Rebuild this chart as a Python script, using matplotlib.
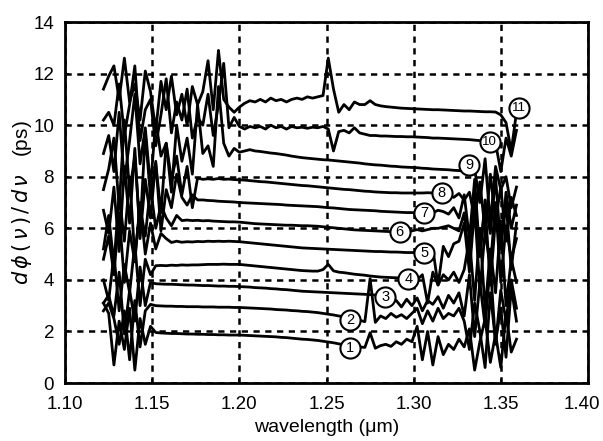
import numpy as np
import matplotlib
matplotlib.use("Agg")
import matplotlib.pyplot as plt
import matplotlib.transforms as mtransforms

# wavelength sampling (um) shared by all traces
wl_start = 1.122
wl_step = 0.003
n_pts = 80

curve_1 = [3.1, 2.7, 0.7, 2.4, 1.3, 2.9, 0.5, 2.5, 1.5, 2.2,
           1.96, 1.94, 1.93, 1.92, 1.92, 1.91, 1.9, 1.9, 1.89, 1.89,
           1.88, 1.88, 1.87, 1.87, 1.86, 1.86, 1.86, 1.85, 1.84, 1.83,
           1.82, 1.81, 1.8, 1.79, 1.77, 1.76, 1.74, 1.72, 1.7, 1.69,
           1.67, 1.65, 1.62, 1.59, 1.56, 1.52, 1.48, 1.45, 1.42, 1.4,
           1.38, 1.95, 1.35, 1.45, 1.5, 1.42, 1.6, 1.5, 1.7, 1.6,
           2.2, 0.9, 2.0, 0.7, 1.8, 1.1, 1.5, 1.3, 1.7, 1.4,
           2.1, 0.5, 1.6, 2.5, 0.8, 1.9, 0.6, 2.7, 1.2, 1.7]
curve_2 = [2.8, 3.1, 2.5, 1.5, 2.8, 0.9, 3.2, 1.4, 2.8, 3.05,
           3.0, 2.99, 2.98, 2.98, 2.97, 2.97, 2.96, 2.96, 2.96, 2.95,
           2.95, 2.95, 2.94, 2.94, 2.94, 2.93, 2.93, 2.92, 2.91, 2.9,
           2.89, 2.88, 2.87, 2.85, 2.84, 2.83, 2.81, 2.8, 2.78, 2.77,
           2.75, 2.73, 2.7, 2.67, 2.64, 2.6, 2.57, 2.53, 2.48, 2.43,
           2.38, 4.05, 2.35, 2.6, 2.5, 2.7, 2.55, 2.65, 2.5, 2.7,
           2.9, 2.3, 2.8, 2.4, 2.9, 2.5, 2.7, 2.6, 2.9, 2.4,
           1.3, 3.1, 2.0, 0.6, 3.5, 1.6, 2.9, 1.0, 3.7, 2.4]
curve_3 = [3.1, 3.4, 2.6, 4.3, 1.9, 3.6, 2.4, 4.5, 3.0, 3.9,
           3.85, 3.84, 3.83, 3.83, 3.82, 3.81, 3.8, 3.8, 3.79, 3.78,
           3.78, 3.77, 3.76, 3.76, 3.75, 3.75, 3.74, 3.73, 3.72, 3.7,
           3.69, 3.68, 3.66, 3.65, 3.63, 3.62, 3.6, 3.58, 3.56, 3.55,
           3.54, 3.53, 3.52, 3.51, 3.5, 3.49, 3.48, 3.47, 3.46, 3.45,
           3.44, 3.43, 3.41, 3.37, 3.33, 3.1, 3.2, 2.95, 3.25, 3.0,
           3.3, 2.8, 3.2, 3.05, 3.35, 2.9, 3.4, 3.1, 3.5, 2.6,
           4.2, 1.8, 3.9, 2.2, 4.6, 1.5, 3.6, 2.4, 4.0, 2.9]
curve_4 = [4.0, 3.2, 5.0, 2.8, 4.6, 3.5, 5.4, 3.0, 4.8, 4.2,
           4.55, 4.56, 4.55, 4.57, 4.56, 4.58, 4.57, 4.58, 4.58, 4.59,
           4.6, 4.6, 4.6, 4.61, 4.6, 4.6, 4.6, 4.58, 4.56, 4.54,
           4.52, 4.5, 4.48, 4.46, 4.44, 4.42, 4.4, 4.38, 4.36, 4.35,
           4.34, 4.34, 4.4, 4.6, 4.35, 4.3, 4.28, 4.25, 4.22, 4.2,
           4.18, 4.15, 4.13, 4.11, 4.1, 4.09, 4.08, 4.07, 4.07, 4.1,
           4.0, 4.2, 3.1, 4.3, 3.8, 4.2, 4.0, 4.3, 3.9, 4.4,
           5.6, 3.2, 6.0, 2.8, 5.2, 3.5, 6.3, 3.0, 4.8, 3.9]
curve_5 = [4.8, 5.7, 4.2, 6.6, 3.9, 5.9, 4.7, 7.0, 5.0, 6.2,
           5.2, 5.8, 5.6, 5.45, 5.5, 5.46, 5.48, 5.47, 5.49, 5.48,
           5.5, 5.49, 5.5, 5.49, 5.5, 5.49, 5.48, 5.46, 5.44, 5.42,
           5.4, 5.38, 5.36, 5.34, 5.32, 5.3, 5.28, 5.26, 5.24, 5.23,
           5.22, 5.21, 5.2, 5.19, 5.18, 5.17, 5.16, 5.15, 5.14, 5.13,
           5.12, 5.11, 5.1, 5.1, 5.09, 5.08, 5.08, 5.07, 5.06, 5.06,
           5.05, 5.04, 4.7, 5.2, 3.8, 5.3, 4.9, 5.4, 5.5, 6.2,
           4.3, 6.8, 3.6, 5.9, 4.5, 7.0, 3.9, 6.1, 4.8, 5.6]
curve_6 = [5.2, 6.5, 4.6, 7.3, 5.5, 8.0, 4.9, 6.8, 5.7, 7.6,
           6.0, 6.9, 6.4, 6.1, 6.5, 6.3, 6.32, 6.3, 6.31, 6.29,
           6.3, 6.28, 6.27, 6.26, 6.25, 6.25, 6.24, 6.22, 6.2, 6.18,
           6.17, 6.16, 6.15, 6.14, 6.13, 6.12, 6.12, 6.11, 6.1, 6.1,
           6.09, 6.08, 6.06, 6.04, 6.02, 6.0, 5.98, 5.96, 5.94, 5.93,
           5.92, 5.91, 5.9, 5.89, 5.88, 5.87, 5.86, 5.85, 5.85, 5.9,
           5.95, 5.9, 5.95, 6.0, 6.0, 6.05, 6.1, 6.0, 5.9, 6.6,
           4.6, 7.2, 5.0, 6.9, 3.8, 6.4, 5.3, 7.0, 4.4, 6.2]
curve_7 = [6.7, 5.8, 7.6, 5.1, 8.4, 6.2, 9.1, 5.6, 7.9, 6.4,
           8.6, 5.9, 7.5, 6.8, 8.1, 7.2, 6.9, 7.3, 7.1, 7.1,
           7.08, 7.07, 7.05, 7.04, 7.03, 7.02, 7.0, 6.99, 6.98, 6.97,
           6.96, 6.95, 6.94, 6.93, 6.92, 6.9, 6.89, 6.88, 6.87, 6.86,
           6.85, 6.84, 6.82, 6.8, 6.79, 6.77, 6.75, 6.73, 6.72, 6.71,
           6.7, 6.69, 6.68, 6.66, 6.65, 6.64, 6.63, 6.62, 6.61, 6.61,
           6.6, 6.6, 6.65, 6.6, 6.7, 6.65, 6.55, 6.8, 6.4, 7.3,
           5.6, 7.9, 4.9, 7.1, 5.8, 8.0, 5.2, 7.4, 6.0, 6.9]
curve_8 = [7.5, 8.3, 9.5, 6.8, 10.2, 7.4, 8.8, 5.9, 9.7, 7.2,
           8.5, 6.6, 9.3, 7.9, 8.8, 7.3, 8.4, 6.8, 7.95, 7.9,
           7.92, 7.9, 7.93, 7.9, 7.91, 7.89, 7.88, 7.87, 7.85, 7.83,
           7.81, 7.8, 7.78, 7.76, 7.74, 7.72, 7.7, 7.68, 7.66, 7.65,
           7.63, 7.61, 7.59, 7.57, 7.55, 7.53, 7.51, 7.5, 7.48, 7.46,
           7.44, 7.43, 7.41, 7.4, 7.39, 7.38, 7.38, 7.37, 7.37, 7.37,
           7.37, 7.37, 7.38, 7.37, 7.37, 7.37, 7.3, 7.2, 7.35, 7.1,
           7.4, 6.4, 7.8, 5.9, 8.1, 6.3, 7.6, 5.5, 7.2, 6.5]
curve_9 = [8.9, 9.6, 8.2, 10.5, 7.8, 9.4, 11.2, 8.5, 9.9, 7.6,
           10.2, 8.8, 9.3, 7.4, 10.0, 8.6, 9.5, 8.1, 10.8, 8.9,
           9.2, 8.4, 11.5, 9.3, 8.8, 9.1, 8.95, 9.0, 9.05, 9.0,
           8.98, 8.95, 8.92, 8.9, 8.87, 8.84, 8.8, 8.77, 8.74, 8.72,
           8.7, 8.68, 8.66, 8.65, 8.63, 8.61, 8.59, 8.57, 8.55, 8.53,
           8.5, 8.48, 8.46, 8.45, 8.43, 8.41, 8.4, 8.38, 8.37, 8.36,
           8.35, 8.33, 8.32, 8.3, 8.29, 8.28, 8.27, 8.25, 8.24, 8.22,
           8.2, 8.3, 7.0, 8.7, 6.2, 8.4, 7.5, 8.0, 6.8, 7.6]
curve_10 = [10.2, 10.5, 10.0, 11.6, 9.6, 10.8, 12.3, 9.4, 10.6, 11.0,
            9.2, 10.4, 11.8, 9.7, 10.9, 10.2, 11.4, 9.5, 10.3, 10.0,
            11.2, 9.6, 10.8, 12.4, 9.9, 10.3, 9.95, 9.85, 9.95, 9.9,
            9.95, 9.85, 10.0, 9.9, 9.95, 9.85, 9.95, 9.9, 9.92, 9.88,
            9.92, 9.9, 9.95, 9.85, 9.0, 9.75, 9.8, 9.7, 9.9, 9.7,
            9.65, 9.6, 9.6, 9.58, 9.58, 9.57, 9.56, 9.56, 9.55, 9.55,
            9.54, 9.53, 9.52, 9.5, 9.5, 9.49, 9.48, 9.47, 9.46, 9.45,
            9.44, 9.42, 9.4, 9.38, 9.36, 9.3, 8.2, 9.5, 8.8, 9.8]
curve_11 = [11.4, 11.9, 12.3, 11.0, 12.6, 10.9, 11.6, 10.2, 12.1, 11.3,
            9.8, 11.7, 10.6, 11.9, 10.4, 11.2, 10.0, 11.5, 10.8, 11.3,
            12.5, 10.6, 12.9, 11.0, 10.7, 10.5, 10.7, 10.85, 10.95, 10.9,
            11.0, 10.9, 11.05, 10.95, 11.0, 10.9, 11.0, 11.05, 11.0, 11.1,
            11.05, 11.1, 11.15, 12.6, 11.4, 10.5, 10.8, 10.6, 10.9, 10.8,
            10.8, 10.95, 10.8, 10.75, 10.72, 10.7, 10.68, 10.66, 10.65, 10.64,
            10.63, 10.62, 10.61, 10.6, 10.6, 10.59, 10.58, 10.57, 10.56, 10.55,
            10.55, 10.54, 10.53, 10.52, 10.52, 10.51, 10.4, 10.1, 9.0, 10.5]

curves = [curve_1, curve_2, curve_3, curve_4, curve_5, curve_6,
          curve_7, curve_8, curve_9, curve_10, curve_11]

# circled curve numbers and where they sit
label_text = ["1", "2", "3", "4", "5", "6", "7", "8", "9", "10", "11"]
label_x = [1.2636, 1.2636, 1.2838, 1.297, 1.306, 1.292, 1.306, 1.316, 1.332, 1.3437, 1.3604]
label_y = [1.36, 2.44, 3.33, 4.03, 5.04, 5.85, 6.6, 7.37, 8.45, 9.34, 10.66]

x_ticks = [1.10, 1.15, 1.20, 1.25, 1.30, 1.35, 1.40]
y_ticks = [0, 2, 4, 6, 8, 10, 12, 14]

plt.rcParams['font.family'] = ['Liberation Sans', 'DejaVu Sans']

wl = wl_start + wl_step * np.arange(n_pts)

fig = plt.figure(figsize=(6.03, 4.41), dpi=100)
ax = fig.add_axes([0.108, 0.1315, 0.867, 0.8185])

for c in curves:
    ax.plot(wl, c, color='black', lw=2.0, zorder=3)

ax.plot(label_x, label_y, 'o', ms=14.5, mfc='white', mec='black', mew=1.5, zorder=4)
for t, lx, ly in zip(label_text, label_x, label_y):
    ax.text(lx, ly, t, ha='center', va='center',
            fontsize=10.5 if len(t) == 1 else 9.5, zorder=5)

ax.set_xlim(1.10, 1.40)
ax.set_ylim(0, 14)
ax.set_xticks(x_ticks)
ax.set_xticklabels([f"{v:.2f}" for v in x_ticks])
ax.set_yticks(y_ticks)
ax.tick_params(direction='in', length=3, width=1.2, labelsize=13.5)
ax.tick_params(axis='x', pad=9)
ax.tick_params(axis='y', pad=8)
# keep the last x label inside the canvas
last = ax.get_xticklabels()[-1]
last.set_transform(last.get_transform() +
                   mtransforms.ScaledTranslation(-4 / 72, 0, fig.dpi_scale_trans))

ax.grid(True, color='black', linestyle=(0, (2.5, 2.2)), lw=1.8)
for s in ax.spines.values():
    s.set_linewidth(2)

ax.set_xlabel("wavelength (\u03bcm)", fontsize=14, labelpad=5)
ax.set_ylabel(r"$d\,\phi\,(\,\nu\,)\,/\,d\,\nu$   (ps)", fontsize=15)
ax.yaxis.set_label_coords(-0.059, 0.5)

fig.savefig("out.png", dpi=100)
